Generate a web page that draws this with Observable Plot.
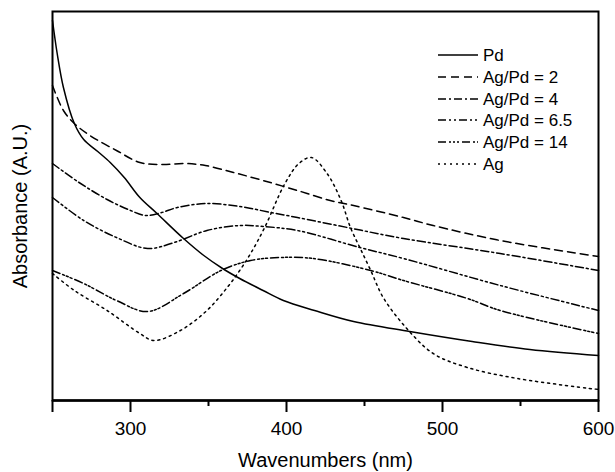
<!DOCTYPE html>
<html><head><meta charset="utf-8">
<script src="https://cdn.jsdelivr.net/npm/d3@7"></script>
<script src="https://cdn.jsdelivr.net/npm/@observablehq/plot@0.6"></script>
<style>
body{margin:0;background:#fff}
#chart{position:relative;width:615px;height:472px;font-family:"Liberation Sans",Arial,sans-serif}
#legend{position:absolute;left:0;top:0}
</style>
</head><body><div id="chart"></div>
<script>
// Series names and line styles
const seriesNames = ["Pd", "Ag/Pd = 2", "Ag/Pd = 4", "Ag/Pd = 6.5", "Ag/Pd = 14", "Ag"];
const seriesDash = ["none", "8,5", "8,3,2,3", "8,3,2,3,2,3", "8,3,2,2,2,2,2,3", "2,4"];

// Wavelength (nm) and absorbance (A.U.)
const pdX = [250, 253, 257, 264, 270, 279, 287, 296, 306, 317, 334, 347, 359, 370, 385, 398, 418, 443, 479, 519, 556, 600];
const pdY = [3.80, 3.47, 3.13, 2.77, 2.61, 2.49, 2.38, 2.23, 2.03, 1.87, 1.62, 1.45, 1.32, 1.22, 1.10, 1.00, 0.90, 0.79, 0.69, 0.59, 0.51, 0.45];

const ag2X = [250, 257, 264, 274, 291, 306, 320, 335, 348, 366, 385, 407, 428, 443, 475, 494, 537, 600];
const ag2Y = [3.15, 2.90, 2.77, 2.65, 2.50, 2.38, 2.36, 2.37, 2.35, 2.28, 2.20, 2.10, 2.00, 1.95, 1.83, 1.75, 1.60, 1.44];

const ag4X = [250, 267, 285, 300, 310, 320, 330, 349, 370, 390, 407, 439, 475, 537, 600];
const ag4Y = [2.37, 2.18, 2.01, 1.90, 1.85, 1.88, 1.93, 1.97, 1.94, 1.88, 1.83, 1.73, 1.62, 1.47, 1.30];

const ag65X = [250, 270, 291, 311, 328, 349, 370, 385, 407, 447, 475, 537, 600];
const ag65Y = [2.03, 1.80, 1.63, 1.52, 1.58, 1.70, 1.75, 1.74, 1.70, 1.53, 1.42, 1.15, 0.90];

const ag14X = [250, 270, 291, 311, 334, 358, 377, 396, 417, 454, 475, 516, 537, 600];
const ag14Y = [1.30, 1.17, 1.00, 0.89, 1.07, 1.30, 1.40, 1.43, 1.42, 1.30, 1.20, 1.02, 0.90, 0.67];

const agX = [250, 264, 285, 306, 315, 332, 349, 362, 370, 377, 386, 399, 408, 416, 426, 435, 441, 447, 454, 462, 476, 494, 516, 548, 600];
const agY = [1.27, 1.10, 0.90, 0.67, 0.60, 0.70, 0.90, 1.13, 1.30, 1.47, 1.73, 2.17, 2.37, 2.43, 2.27, 2.00, 1.73, 1.53, 1.30, 1.03, 0.74, 0.47, 0.33, 0.22, 0.11];

// Axis ticks
const majorTicks = [250, 300, 400, 500, 600];
const minorTicks = [350, 450, 550];
const xTitle = "Wavenumbers (nm)";
const yTitle = "Absorbance (A.U.)";

const seriesXY = [[pdX, pdY], [ag2X, ag2Y], [ag4X, ag4Y], [ag65X, ag65Y], [ag14X, ag14Y], [agX, agY]];
const tables = seriesXY.map(([xs, ys], k) => xs.map((x, i) => ({series: seriesNames[k], nm: x, A: ys[i]})));

const font = '"Liberation Sans", Arial, sans-serif';
const plot = Plot.plot({
  width: 615, height: 472,
  marginLeft: 52, marginRight: 17, marginTop: 11, marginBottom: 72,
  style: {fontFamily: font, fontSize: "19px", color: "#000", background: "#fff", overflow: "visible"},
  x: {domain: [250, 600]},
  y: {domain: [0, 3.89], axis: null},
  marks: [
    ...tables.map((t, k) => Plot.line(t, {
      x: "nm", y: "A", curve: "catmull-rom", stroke: "#000", strokeWidth: 1.5,
      strokeDasharray: seriesDash[k] === "none" ? null : seriesDash[k]
    })),
    Plot.frame({stroke: "#000", strokeWidth: 2}),
    Plot.ruleY([0], {stroke: "#000", strokeWidth: 2.5}),
    Plot.axisX(majorTicks, {tickSize: 12, tickPadding: 9, strokeWidth: 2, label: null,
      tickFormat: d => d === 250 ? "" : String(d), fontSize: 19}),
    Plot.axisX(minorTicks, {tickSize: 6, strokeWidth: 2, label: null, tickFormat: () => ""}),
    Plot.text([xTitle], {text: d => d, frameAnchor: "bottom", dy: 60, lineAnchor: "middle", textAnchor: "middle", fontSize: 20}),
    Plot.text([yTitle], {text: d => d, frameAnchor: "left", dx: -32, rotate: -90, lineAnchor: "middle", textAnchor: "middle", fontSize: 20})
  ]
});
const chart = document.getElementById("chart");
chart.appendChild(plot);

// Legend overlay
const rowY = [55, 77, 99, 120, 142, 164];
const svg = d3.select(chart).append("svg").attr("id", "legend").attr("width", 615).attr("height", 472);
const g = svg.selectAll("g").data(seriesNames).join("g");
g.append("line")
  .attr("x1", 438).attr("x2", 478)
  .attr("y1", (d, i) => rowY[i]).attr("y2", (d, i) => rowY[i])
  .attr("stroke", "#000").attr("stroke-width", 1.5)
  .attr("stroke-dasharray", (d, i) => seriesDash[i] === "none" ? null : seriesDash[i]);
g.append("text")
  .attr("x", 483).attr("y", (d, i) => rowY[i]).attr("dy", "0.36em")
  .attr("font-family", font).attr("font-size", 17).attr("fill", "#000")
  .text(d => d);
</script>
</body></html>
